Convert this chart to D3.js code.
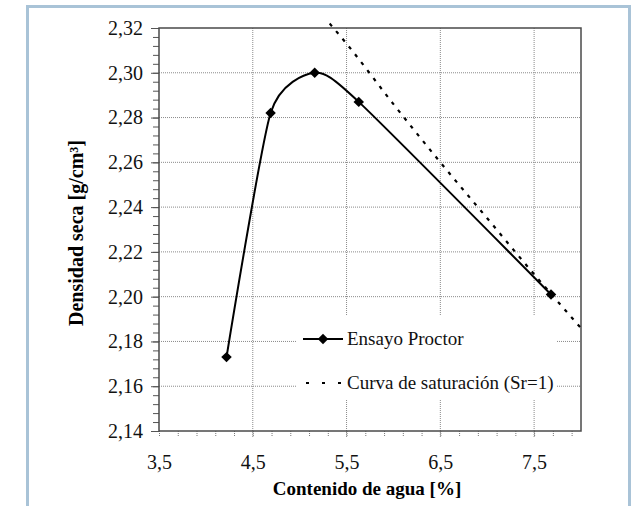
<!DOCTYPE html>
<html>
<head>
<meta charset="utf-8">
<script src="https://cdn.jsdelivr.net/npm/d3@7"></script>
<style>
  html, body { margin: 0; padding: 0; background: #fff; }
  svg { display: block; }
  svg text { font-family: "Liberation Serif", "DejaVu Serif", "Times New Roman", serif; }
</style>
</head>
<body>
<div id="chart"></div>
<script>
////////////////////////////// DATA ////////////////////////////////////

// Ensayo Proctor: water content [%] and dry density [g/cm3]
const proctorW = [4.22, 4.69, 5.16, 5.63, 7.68];
const proctorRho = [2.173, 2.282, 2.3, 2.287, 2.201];

// Curva de saturacion (Sr=1)
const satW = [5.32, 5.5, 6.0, 6.5, 7.0, 7.5, 8.02];
const satRho = [2.322, 2.313, 2.286, 2.26, 2.235, 2.21, 2.185];

// Axis ticks
const xTicks = [3.5, 4.5, 5.5, 6.5, 7.5];
const yTicks = [2.14, 2.16, 2.18, 2.2, 2.22, 2.24, 2.26, 2.28, 2.3, 2.32];

const legendLabels = ["Ensayo Proctor", "Curva de saturación (Sr=1)"];

////////////////////////////// SET UP ////////////////////////////////////

const width = 633;
const height = 506;
const plot = { left: 159, top: 28, right: 581, bottom: 431 };
const serif = '"Liberation Serif", "DejaVu Serif", serif';

const svg = d3
  .select("#chart")
  .append("svg")
  .attr("width", width)
  .attr("height", height);

const x = d3.scaleLinear().domain([3.5, 8]).range([plot.left, plot.right]);
const y = d3.scaleLinear().domain([2.14, 2.32]).range([plot.bottom, plot.top]);

// light blue outer frame
svg
  .append("rect")
  .attr("x", 27.5)
  .attr("y", 6.5)
  .attr("width", 602)
  .attr("height", 520)
  .style("fill", "none")
  .style("stroke", "#a9c3d7")
  .style("stroke-width", 3);

////////////////////////////// GRID ////////////////////////////////////

svg
  .append("g")
  .selectAll("line")
  .data(yTicks.slice(1, -1))
  .join("line")
  .attr("x1", plot.left)
  .attr("x2", plot.right)
  .attr("y1", (d) => y(d))
  .attr("y2", (d) => y(d))
  .style("stroke", "#8a8a8a")
  .style("stroke-dasharray", "1,1");

svg
  .append("g")
  .selectAll("line")
  .data(xTicks.slice(1))
  .join("line")
  .attr("x1", (d) => x(d))
  .attr("x2", (d) => x(d))
  .attr("y1", plot.top)
  .attr("y2", plot.bottom + 7)
  .style("stroke", "#8a8a8a")
  .style("stroke-dasharray", "1,1");

////////////////////////////// AXES ////////////////////////////////////

// y axis: major labels + minor ticks every 0.004
const yMinor = d3.range(0, 46).map((i) => 2.14 + i * 0.004);

svg
  .append("g")
  .attr("transform", `translate(${plot.left},0)`)
  .call(d3.axisLeft(y).tickValues(yMinor).tickSize(6).tickFormat(""))
  .call((g) => g.select(".domain").remove())
  .call((g) => g.selectAll("line").style("stroke", "#555"));

svg
  .append("g")
  .attr("transform", `translate(${plot.left},0)`)
  .call(
    d3
      .axisLeft(y)
      .tickValues(yTicks)
      .tickSize(8)
      .tickPadding(8)
      .tickFormat((d) => d3.format(".2f")(d).replace(".", ","))
  )
  .attr("font-family", serif)
  .call((g) => g.select(".domain").remove())
  .call((g) => g.selectAll("line").style("stroke", "#555"))
  .call((g) =>
    g
      .selectAll("text")
      .style("font-size", "20px")
      .style("fill", "#111")
  );

// x axis: minor ticks every 0.2, labels at 3,5 4,5 ...
const xMinor = d3.range(0, 23).map((i) => 3.5 + i * 0.2);

svg
  .append("g")
  .attr("transform", `translate(0,${plot.bottom})`)
  .call(d3.axisBottom(x).tickValues(xMinor).tickSize(5).tickFormat(""))
  .call((g) => g.select(".domain").remove())
  .call((g) =>
    g.selectAll("line").style("stroke", "#777").style("stroke-dasharray", "1,1")
  );

svg
  .append("g")
  .attr("transform", `translate(0,${plot.bottom})`)
  .call(
    d3
      .axisBottom(x)
      .tickValues(xTicks)
      .tickSize(0)
      .tickPadding(24)
      .tickFormat((d) => d3.format(".1f")(d).replace(".", ","))
  )
  .attr("font-family", serif)
  .call((g) => g.select(".domain").remove())
  .call((g) =>
    g
      .selectAll("text")
      .style("font-size", "20px")
      .style("fill", "#111")
  );

// plot area border
svg
  .append("rect")
  .attr("x", plot.left)
  .attr("y", plot.top)
  .attr("width", plot.right - plot.left)
  .attr("height", plot.bottom - plot.top)
  .style("fill", "none")
  .style("stroke", "#4a4a4a")
  .style("stroke-width", 1.5);

// axis titles
svg
  .append("text")
  .attr("x", (plot.left + plot.right) / 2 - 3)
  .attr("y", 495)
  .attr("text-anchor", "middle")
  .style("font-weight", "bold")
  .style("font-size", "19px")
  .text("Contenido de agua [%]");

svg
  .append("text")
  .attr("transform", "translate(83,233) rotate(-90)")
  .attr("text-anchor", "middle")
  .style("font-weight", "bold")
  .style("font-size", "20px")
  .text("Densidad seca [g/cm³]");

////////////////////////////// SERIES ////////////////////////////////////

const proctor = proctorW.map((w, i) => ({ w: w, rho: proctorRho[i] }));
const sat = satW.map((w, i) => ({ w: w, rho: satRho[i] }));

const line = d3
  .line()
  .x((d) => x(d.w))
  .y((d) => y(d.rho));

svg
  .append("path")
  .datum(sat)
  .attr("d", line.curve(d3.curveMonotoneX))
  .style("fill", "none")
  .style("stroke", "#000")
  .style("stroke-width", 2.2)
  .style("stroke-dasharray", "3.5,6.5");

// Excel-like smoothing (cardinal spline with a bit of tension)
svg
  .append("path")
  .datum(proctor)
  .attr("d", line.curve(d3.curveCardinal.tension(0.35)))
  .style("fill", "none")
  .style("stroke", "#000")
  .style("stroke-width", 2);

const diamond = d3.symbol().type(d3.symbolDiamond2).size(70);

svg
  .append("g")
  .selectAll("path")
  .data(proctor)
  .join("path")
  .attr("transform", (d) => `translate(${x(d.w)},${y(d.rho)})`)
  .attr("d", diamond)
  .style("fill", "#000");

////////////////////////////// LEGEND ////////////////////////////////////

const legend = svg.append("g");

legend
  .append("rect")
  .attr("x", 297)
  .attr("y", 316)
  .attr("width", 259)
  .attr("height", 84)
  .style("fill", "#fff");

const rows = legend
  .selectAll("g")
  .data(legendLabels)
  .join("g")
  .attr("transform", (d, i) => `translate(303,${339 + i * 44})`);

rows
  .append("line")
  .attr("x1", (d, i) => (i === 0 ? 0 : 3))
  .attr("x2", 40)
  .style("stroke", "#000")
  .style("stroke-width", 2)
  .style("stroke-dasharray", (d, i) => (i === 0 ? null : "3,13"));

rows
  .filter((d, i) => i === 0)
  .append("path")
  .attr("transform", "translate(20,0)")
  .attr("d", diamond)
  .style("fill", "#000");

rows
  .append("text")
  .attr("x", 44)
  .attr("y", 6)
  .style("font-size", "19px")
  .style("fill", "#111")
  .text((d) => d);
</script>
</body>
</html>
